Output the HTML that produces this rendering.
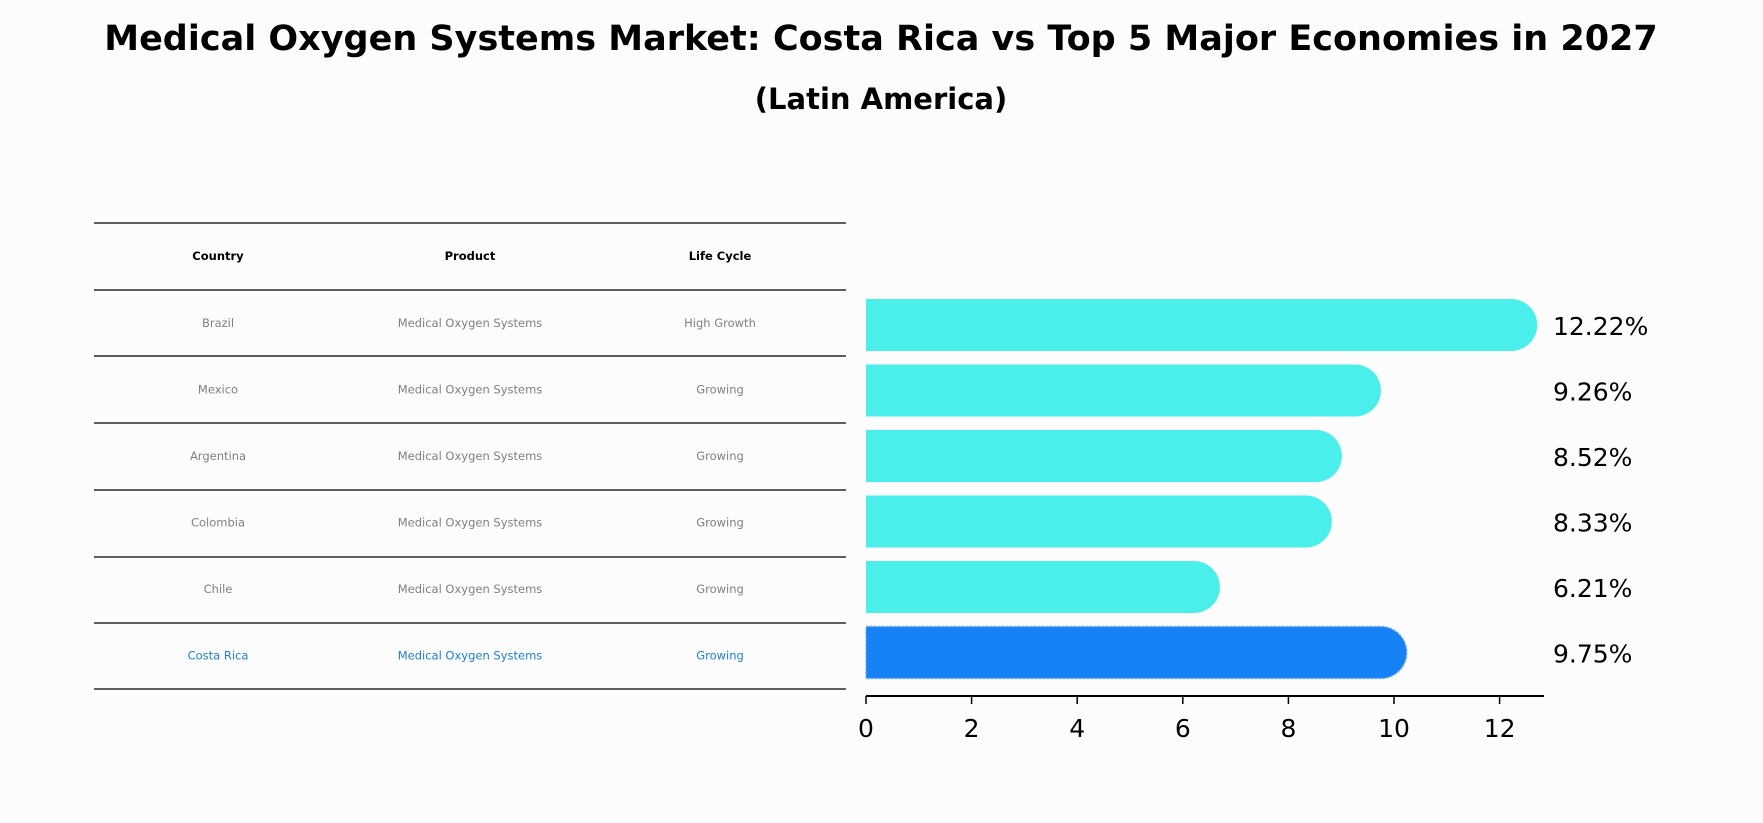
<!DOCTYPE html>
<html><head><meta charset="utf-8"><style>
body{margin:0;background:#fcfcfc;}
svg{display:block;font-family:"DejaVu Sans","Liberation Sans",sans-serif;}
</style></head><body>
<svg id="c" width="1763" height="823" viewBox="0 0 1763 823">
<text x="881" y="50" text-anchor="middle" font-size="35" font-weight="bold">Medical Oxygen Systems Market: Costa Rica vs Top 5 Major Economies in 2027</text>
<text x="881" y="109" text-anchor="middle" font-size="29" font-weight="bold">(Latin America)</text>
<g id="table"></g>
<g id="bars"></g>
</svg>
<script>
const countries=["Brazil","Mexico","Argentina","Colombia","Chile","Costa Rica"];
const products=["Medical Oxygen Systems","Medical Oxygen Systems","Medical Oxygen Systems","Medical Oxygen Systems","Medical Oxygen Systems","Medical Oxygen Systems"];
const lifecycle=["High Growth","Growing","Growing","Growing","Growing","Growing"];
const values=[12.22,9.26,8.52,8.33,6.21,9.75];
const ticks=[0,2,4,6,8,10,12];

const NS="http://www.w3.org/2000/svg";
function mk(tag,attrs,parent,txt){const e=document.createElementNS(NS,tag);for(const k in attrs)e.setAttribute(k,attrs[k]);if(txt!==undefined)e.textContent=txt;parent.appendChild(e);return e;}
const x0=866,unit=52.8;
const xs=v=>x0+v*unit;
const yc=i=>325+i*65.5;
const bh=52,r=26;

// table
const tb=document.getElementById('table');
const lineYs=[223,290,356,423,490,557,623,689];
lineYs.forEach(y=>{
  const l=mk('line',{x1:94,x2:846,y1:y,y2:y,stroke:'#000','stroke-width':1.2},tb);
  
  
});
const colX=[218,470,720];
["Country","Product","Life Cycle"].forEach((h,j)=>{
  const t=mk('text',{x:colX[j],y:260,'text-anchor':'middle','font-size':11.5,'font-weight':'bold'},tb,h);
  
  
});
countries.forEach((c,i)=>{
  const y=327+i*66.5;
  const col=i===5?'#1a7fd6':'#808080';
  [c,products[i],lifecycle[i]].forEach((v,j)=>{
    const t=mk('text',{x:colX[j],y:y,'text-anchor':'middle','font-size':11.5,fill:col},tb,v);
    
    
  });
});

// bars
const g=document.getElementById('bars');
values.forEach((v,i)=>{
  const hi=i===5;
  const fill=hi?'#1682f5':'#4aeeea';
  const y=yc(i);
  const p=mk('path',{d:`M${x0},${y-bh/2} H${xs(v)} A${r},${r} 0 0 1 ${xs(v)},${y+bh/2} H${x0} Z`,fill:fill},g);
  if(hi){p.setAttribute('stroke','#6aaaf0');p.setAttribute('stroke-width','1.5');p.setAttribute('stroke-dasharray','2,2');}
  
  
  const t=mk('text',{x:1553,y:y+10,'font-size':25},g,v.toFixed(2)+'%');
  
  
});
const ax=mk('line',{x1:x0,x2:1544,y1:696,y2:696,stroke:'#000','stroke-width':2},g);


ticks.forEach(t=>{
  const l=mk('line',{x1:xs(t),x2:xs(t),y1:696,y2:704,stroke:'#000','stroke-width':1.5},g);
  
  
  const tx=mk('text',{x:xs(t),y:737,'text-anchor':'middle','font-size':25},g,String(t));
  
  
});
</script>
</body></html>
